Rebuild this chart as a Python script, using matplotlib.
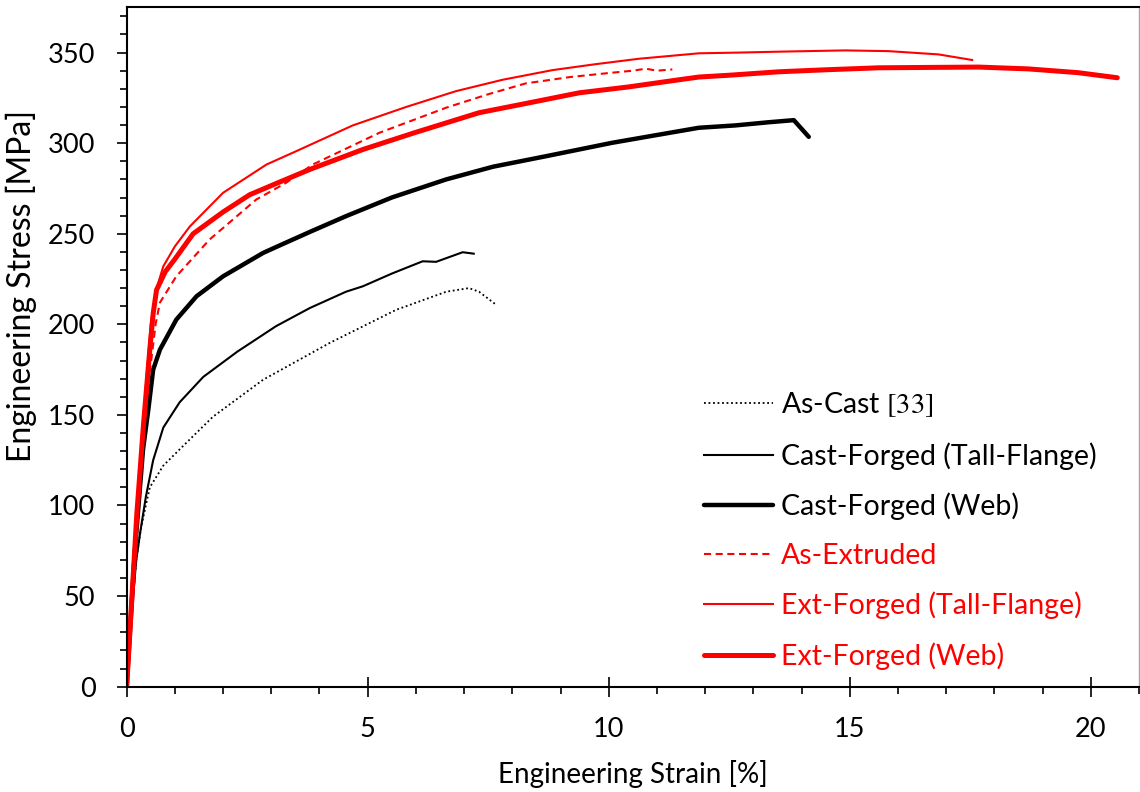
import matplotlib
matplotlib.use("Agg")
import matplotlib.pyplot as plt
from matplotlib.ticker import MultipleLocator

plt.rcParams["font.family"] = ["Lato", "DejaVu Sans"]
plt.rcParams["mathtext.fontset"] = "stix"

# stress-strain curves: strain [%], stress [MPa]
as_cast_strain = [0, 0.1, 0.2, 0.3, 0.48, 0.76, 1.1, 1.79, 2.83, 4.21, 5.59, 6.63, 7.1, 7.31, 7.66]
as_cast_stress = [0, 40, 70, 88, 110, 122, 131, 149, 169.4, 189.7, 208, 218, 220, 218, 210.9]

cf_flange_strain = [0, 0.1, 0.2, 0.28, 0.4, 0.55, 0.76, 1.1, 1.59, 2.3, 3.1, 3.8, 4.55, 4.9,
                    5.5, 6.14, 6.42, 6.97, 7.2]
cf_flange_stress = [0, 40, 70, 85, 105, 125, 143, 157, 171, 185, 199, 209, 218, 221,
                    228, 234.8, 234.5, 239.8, 239]

cf_web_strain = [0, 0.17, 0.34, 0.45, 0.55, 0.69, 1.03, 1.45, 2.0, 2.83, 3.17, 3.8, 4.55, 5.5,
                 6.63, 7.6, 8.7, 10.07, 11.0, 11.87, 12.63, 13.3, 13.84, 14.15]
cf_web_stress = [0, 75, 131, 153, 175, 186, 202.6, 215.5, 226.5, 239.4, 243.5, 251, 259.7, 270,
                 280, 287, 292.8, 300.2, 304.5, 308.5, 309.8, 311.5, 312.7, 303.5]

extruded_strain = [0, 0.1, 0.2, 0.35, 0.5, 0.6, 0.69, 1.03, 1.72, 2.69, 3.3, 3.86, 5.24, 6.63,
                   7.5, 8.28, 9.2, 10.07, 10.5, 10.77, 11.0, 11.32]
extruded_stress = [0, 42, 88, 140, 178, 200, 212, 226.5, 246.8, 268.9, 278, 288.2, 305.7, 319.6,
                   327, 333, 336.5, 338.9, 340, 341.1, 340, 340.7]

ef_flange_strain = [0, 0.1, 0.2, 0.35, 0.5, 0.6, 0.76, 1.0, 1.31, 2.0, 2.9, 3.52, 4.69, 5.8,
                    6.83, 7.8, 8.83, 9.7, 10.63, 11.87, 12.7, 13.53, 14.9, 15.8, 16.84, 17.54]
ef_flange_stress = [0, 45, 92, 150, 200, 218, 232, 243, 254, 272.6, 288.2, 295.6, 309.8, 320,
                    328.7, 335, 340.3, 343.5, 346.6, 349.6, 350, 350.5, 351.2, 350.8, 349, 345.9]

ef_web_strain = [0, 0.1, 0.21, 0.35, 0.48, 0.55, 0.62, 0.8, 1.0, 1.38, 2.0, 2.55, 3.17, 3.8,
                 4.9, 6.0, 7.31, 8.3, 9.39, 10.4, 11.46, 11.87, 12.5, 13.53, 14.5, 15.6, 16.6,
                 17.67, 18.7, 19.74, 20.55]
ef_web_stress = [0, 45, 95, 145, 186, 206, 219, 229, 236, 250, 262, 271.5, 278.5, 285.5,
                 296.5, 306, 316.8, 322, 327.8, 331, 335, 336.5, 337.5, 339.4, 340.5, 341.6, 341.8,
                 342, 341, 338.9, 336.1]

RED = "#ff0000"

fig = plt.figure(figsize=(11.4, 7.92), dpi=100)
ax = fig.add_axes([0.1111, 0.1330, 0.8880, 0.8578])

ax.plot(as_cast_strain, as_cast_stress, color="black", lw=1.3, ls=(0, (1, 1.5)),
        label="As-Cast $\\mathrm{[33]}$")
ax.plot(cf_flange_strain, cf_flange_stress, color="black", lw=1.5,
        label="Cast-Forged (Tall-Flange)")
ax.plot(cf_web_strain, cf_web_stress, color="black", lw=3.2, solid_capstyle="round",
        label="Cast-Forged (Web)")
ax.plot(extruded_strain, extruded_stress, color=RED, lw=1.5, ls=(0, (3.4, 2.2)),
        label="As-Extruded")
ax.plot(ef_flange_strain, ef_flange_stress, color=RED, lw=1.5,
        label="Ext-Forged (Tall-Flange)")
ax.plot(ef_web_strain, ef_web_stress, color=RED, lw=3.6, solid_capstyle="round",
        label="Ext-Forged (Web)")

ax.set_xlim(0, 21)
ax.set_ylim(0, 375)
ax.xaxis.set_major_locator(MultipleLocator(5))
ax.xaxis.set_minor_locator(MultipleLocator(1))
ax.yaxis.set_major_locator(MultipleLocator(50))
ax.yaxis.set_minor_locator(MultipleLocator(10))

ax.tick_params(axis="x", which="major", direction="inout", length=14, width=1.2,
               labelsize=19.5, pad=15)
ax.tick_params(axis="x", which="minor", direction="out", length=5, width=1.2)
ax.tick_params(axis="y", which="major", direction="out", length=7.5, width=1.2,
               labelsize=19.5, pad=15)
ax.tick_params(axis="y", which="minor", direction="out", length=5, width=1.2)

for side in ("left", "bottom", "top"):
    ax.spines[side].set_linewidth(1.5)
ax.spines["right"].set_color("#a6a6a6")
ax.spines["right"].set_linewidth(1.0)

ax.set_xlabel("Engineering Strain [%]", fontsize=20, labelpad=13)
ax.set_ylabel("Engineering Stress [MPa]", fontsize=23, labelpad=8, y=0.59)

leg = ax.legend(loc="upper left", bbox_to_anchor=(0.6175, 0.507),
                bbox_transform=fig.transFigure, frameon=False, fontsize=20.5,
                handlelength=2.42, handletextpad=0.28, labelspacing=0.8,
                borderpad=0, borderaxespad=0)
for text, line in zip(leg.get_texts(), leg.get_lines()):
    text.set_color(line.get_color())

fig.savefig("out.png", dpi=100)
